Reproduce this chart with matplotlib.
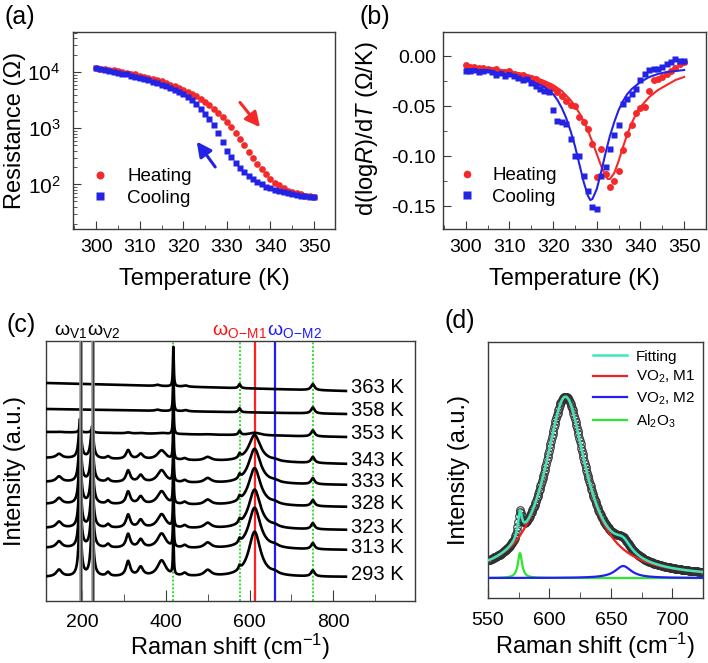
#import libraries
import matplotlib
matplotlib.use("Agg")
import matplotlib.pyplot as plt
import numpy as np
from matplotlib.ticker import MultipleLocator, LogLocator, NullFormatter

plt.rcParams['font.family'] = ['Liberation Sans', 'DejaVu Sans']
plt.rcParams['mathtext.fontset'] = 'custom'
plt.rcParams['mathtext.rm'] = 'Liberation Sans'
plt.rcParams['mathtext.it'] = 'Liberation Sans:italic'
plt.rcParams['mathtext.bf'] = 'Liberation Sans:bold'

RED = '#f42a2a'
BLUE = '#2323e6'

#panel (a): log10 of resistance, 1 K steps
temp = list(range(300, 351))
logR_heat = [4.07, 4.06, 4.05, 4.04, 4.03, 4.02, 4.00, 3.99, 3.97, 3.96,
             3.94, 3.92, 3.90, 3.88, 3.86, 3.84, 3.81, 3.78, 3.75, 3.72,
             3.69, 3.65, 3.61, 3.57, 3.52, 3.47, 3.41, 3.35, 3.28, 3.20,
             3.12, 3.02, 2.92, 2.81, 2.70, 2.58, 2.47, 2.37, 2.27, 2.18,
             2.10, 2.03, 1.98, 1.93, 1.89, 1.86, 1.84, 1.82, 1.80, 1.79, 1.78]
logR_cool = [4.07, 4.05, 4.04, 4.02, 4.01, 3.99, 3.97, 3.96, 3.94, 3.92,
             3.90, 3.88, 3.86, 3.83, 3.81, 3.78, 3.75, 3.72, 3.69, 3.65,
             3.61, 3.56, 3.50, 3.43, 3.35, 3.26, 3.16, 3.05, 2.92, 2.76,
             2.60, 2.48, 2.38, 2.29, 2.22, 2.15, 2.09, 2.04, 2.00, 1.96,
             1.93, 1.90, 1.88, 1.86, 1.84, 1.83, 1.81, 1.80, 1.79, 1.78, 1.78]

#panel (b): d(logR)/dT data and fits
dlog_heat = [-0.009, -0.011, -0.011, -0.012, -0.012, -0.013, -0.014, -0.013, -0.016, -0.016,
             -0.015, -0.018, -0.019, -0.019, -0.021, -0.022, -0.023, -0.026, -0.028, -0.030,
             -0.032, -0.036, -0.040, -0.045, -0.049, -0.050, -0.061, -0.066, -0.073, -0.088,
             -0.121, -0.093, -0.118, -0.131, -0.125, -0.115, -0.094, -0.078, -0.069, -0.057,
             -0.052, -0.051, -0.035, -0.024, -0.023, -0.021, -0.018, -0.015, -0.012, -0.008, -0.006]
dlog_cool = [-0.015, -0.015, -0.014, -0.016, -0.015, -0.014, -0.016, -0.019, -0.017, -0.020,
             -0.018, -0.020, -0.022, -0.024, -0.023, -0.027, -0.030, -0.033, -0.035, -0.036,
             -0.054, -0.065, -0.066, -0.068, -0.083, -0.100, -0.100, -0.120, -0.135, -0.151,
             -0.153, -0.120, -0.111, -0.093, -0.079, -0.069, -0.048, -0.043, -0.038, -0.033,
             -0.024, -0.018, -0.014, -0.013, -0.013, -0.011, -0.008, -0.006, -0.003, -0.005, -0.005]
fit_T_heat = [300, 305, 310, 315, 318, 320, 322, 324, 325, 326, 327, 328, 329, 330, 331,
              332, 332.5, 333, 334, 335, 336, 337, 338, 339, 340, 342, 344, 346, 348, 350]
fit_heat = [-0.010, -0.012, -0.015, -0.020, -0.025, -0.029, -0.035, -0.044, -0.050, -0.057,
            -0.065, -0.075, -0.086, -0.098, -0.110, -0.120, -0.123, -0.123, -0.117, -0.105,
            -0.091, -0.078, -0.067, -0.058, -0.051, -0.041, -0.034, -0.029, -0.024, -0.021]
fit_T_cool = [300, 305, 310, 315, 318, 320, 321, 322, 323, 324, 325, 326, 327, 328, 328.5,
              329, 330, 331, 332, 333, 334, 335, 336, 337, 338, 340, 342, 344, 346, 348, 350]
fit_cool = [-0.013, -0.015, -0.019, -0.025, -0.031, -0.038, -0.044, -0.052, -0.062, -0.075,
            -0.090, -0.108, -0.126, -0.140, -0.144, -0.143, -0.133, -0.116, -0.097, -0.080,
            -0.066, -0.054, -0.045, -0.038, -0.033, -0.026, -0.021, -0.018, -0.016, -0.015, -0.014]

#panel (c): Raman spectra, peak tables
spec_labels = ['363 K', '358 K', '353 K', '343 K', '333 K', '328 K', '323 K', '313 K', '293 K']
spec_offset = [210, 187, 164, 137, 116, 94, 71, 51, 24]
spec_tilt = [8, 5, 5, 6, 3, 3, 2, 2, 0]
spec_m1_scale = [0, 0, 0.06, 0.6, 0.78, 0.84, 0.88, 0.92, 1.0]
m1_pos = [145, 195, 224, 262, 310, 340, 390, 445, 500, 612, 660]
m1_hwhm = [8, 3.5, 4, 5, 6, 7, 12, 6, 10, 17, 10]
m1_amp = [7, 65, 53, 4, 15, 9, 16, 3, 6, 45, 2]
al_pos = [418, 576, 751]
al_hwhm = [1.2, 3, 5]
al_amp = [40, 4, 6]
rut_pos = [380, 447]
rut_hwhm = [6, 6]
rut_amp = [1.2, 1.2]
omega_V = [197, 225]
omega_M1 = 612
omega_M2 = 660

#panel (d): fitted components (centre, hwhm, height) on a flat base
d_base = 20
d_pos = [613, 660, 576]
d_hwhm = [20.5, 8, 2]
d_amp = [181, 12, 25]


def lorentz(x, pos, hw, amp):
    return amp / (1 + ((x - pos) / hw) ** 2)


def styleAxes(ax):
    for sp in ax.spines.values():
        sp.set_color('#3a3a3a')
        sp.set_linewidth(1.0)
    ax.tick_params(which='both', direction='in', top=False, right=False,
                   labelsize=14, color='#3a3a3a')
    ax.tick_params(which='major', length=6)
    ax.tick_params(which='minor', length=3)


fig = plt.figure(figsize=(7.08, 6.63), dpi=100)

#(a) resistance
ax = fig.add_axes([0.1031, 0.6546, 0.3701, 0.2971])
styleAxes(ax)
ax.plot(temp, 10 ** np.array(logR_heat), 'o', color=RED, ms=4.8, mec='none', label='Heating')
ax.plot(temp, 10 ** np.array(logR_cool), 's', color=BLUE, ms=4.5, mec='none', label='Cooling')
ax.set_yscale('log')
ax.set_xlim(294.7, 354.8)
ax.set_ylim(16, 5.2e4)
ax.xaxis.set_major_locator(MultipleLocator(10))
ax.xaxis.set_minor_locator(MultipleLocator(5))
ax.yaxis.set_major_locator(LogLocator(base=10, numticks=10))
ax.yaxis.set_minor_locator(LogLocator(base=10, subs=np.arange(2, 10), numticks=10))
ax.yaxis.set_minor_formatter(NullFormatter())
ax.tick_params(axis='x', pad=7)
ax.tick_params(axis='y', pad=9, labelsize=15)
ax.annotate('', xy=(338.0, 955), xytext=(332.6, 3160),
            arrowprops=dict(arrowstyle='-|>', color=RED, lw=2.2, mutation_scale=22))
ax.annotate('', xy=(322.7, 634), xytext=(327.7, 186),
            arrowprops=dict(arrowstyle='-|>', color=BLUE, lw=2.2, mutation_scale=22))
ax.legend(loc='lower left', bbox_to_anchor=(0.069, 0.112), frameon=False, borderpad=0,
          borderaxespad=0, handlelength=1.0, handletextpad=0.92, labelspacing=0.25,
          fontsize=13.5, markerscale=1.2)
ax.set_xlabel('Temperature (K)', fontsize=17)
ax.set_ylabel('Resistance (Ω)', fontsize=17)
ax.xaxis.set_label_coords(0.5, -0.254)
ax.xaxis.label.set_verticalalignment('center')
ax.yaxis.set_label_coords(-0.222, 0.5)
ax.yaxis.label.set_verticalalignment('center')

#(b) derivative
bx = fig.add_axes([0.6257, 0.6546, 0.3715, 0.2971])
styleAxes(bx)
bx.plot(temp, dlog_heat, 'o', color=RED, ms=5, mec='none', label='Heating', zorder=3)
bx.plot(temp, dlog_cool, 's', color=BLUE, ms=5, mec='none', label='Cooling', zorder=3)
bx.plot(fit_T_heat, fit_heat, '-', color=RED, lw=1.5, zorder=4)
bx.plot(fit_T_cool, fit_cool, '-', color=BLUE, lw=1.5, zorder=4)
bx.set_xlim(294.8, 355)
bx.set_ylim(-0.173, 0.024)
bx.xaxis.set_major_locator(MultipleLocator(10))
bx.xaxis.set_minor_locator(MultipleLocator(5))
bx.yaxis.set_major_locator(MultipleLocator(0.05))
bx.yaxis.set_minor_locator(MultipleLocator(0.025))
bx.yaxis.set_major_formatter(plt.FuncFormatter(lambda v, p: '%.2f' % v if abs(v) > 1e-9 else '0.00'))
bx.tick_params(axis='x', pad=7)
bx.tick_params(axis='y', pad=5)
bx.legend(loc='lower left', bbox_to_anchor=(0.056, 0.117), frameon=False, borderpad=0,
          borderaxespad=0, handlelength=1.0, handletextpad=0.83, labelspacing=0.25,
          fontsize=13.5, markerscale=1.1)
bx.set_xlabel('Temperature (K)', fontsize=17)
bx.set_ylabel('d(log$R$)/d$T$ (Ω/K)', fontsize=17)
bx.xaxis.set_label_coords(0.5, -0.254)
bx.xaxis.label.set_verticalalignment('center')
bx.yaxis.set_label_coords(-0.289, 0.51)
bx.yaxis.label.set_verticalalignment('center')

#(c) Raman spectra
cx = fig.add_axes([0.065, 0.0935, 0.5212, 0.3922])
styleAxes(cx)
raman_x = np.linspace(114, 830, 2600)
for i in range(len(spec_labels)):
    y = spec_offset[i] + spec_tilt[i] * (830 - raman_x) / (830 - 114)
    for p, w, a in zip(al_pos, al_hwhm, al_amp):
        y = y + lorentz(raman_x, p, w, a)
    for p, w, a in zip(m1_pos, m1_hwhm, m1_amp):
        y = y + spec_m1_scale[i] * lorentz(raman_x, p, w, a)
    if spec_m1_scale[i] == 0:
        for p, w, a in zip(rut_pos, rut_hwhm, rut_amp):
            y = y + lorentz(raman_x, p, w, a)
    cx.plot(raman_x, y, color='black', lw=1.9, zorder=3)
    cx.text(843, spec_offset[i] + 3, spec_labels[i], fontsize=14.5, va='center', ha='left')
for p in al_pos:
    cx.axvline(p, color='#2fe02f', lw=1.4, ls=(0, (1, 1)), zorder=2)
cx.axvline(omega_M1, color='#ff2020', lw=1.6, zorder=2)
cx.axvline(omega_M2, color='#1c1cff', lw=1.6, zorder=2)
for p in omega_V:
    cx.axvline(p, color='#9a9a9a', lw=2.6, zorder=4)
    cx.axvline(p, color='#3c3c3c', lw=1.0, zorder=5)
cx.set_xlim(114, 995)
cx.set_ylim(0, 260)
cx.set_yticks([])
cx.xaxis.set_major_locator(MultipleLocator(200))
cx.xaxis.set_minor_locator(MultipleLocator(100))
cx.tick_params(axis='x', which='major', length=8, pad=9)
cx.tick_params(axis='x', which='minor', length=5)
cx.text(172, 1.005, r'ω$_{\mathrm{V1}}$', transform=cx.get_xaxis_transform(),
        fontsize=14, ha='center', va='bottom')
cx.text(251, 1.005, r'ω$_{\mathrm{V2}}$', transform=cx.get_xaxis_transform(),
        fontsize=14, ha='center', va='bottom')
cx.text(577, 1.005, r'ω$_{\mathrm{O\!-\!M1}}$', transform=cx.get_xaxis_transform(),
        fontsize=14, ha='center', va='bottom', color='#ff1010')
cx.text(708, 1.005, r'ω$_{\mathrm{O\!-\!M2}}$', transform=cx.get_xaxis_transform(),
        fontsize=14, ha='center', va='bottom', color='#1a1aff')
cx.set_xlabel('Raman shift (cm$^{-1}$)', fontsize=17)
cx.set_ylabel('Intensity (a.u.)', fontsize=17)
cx.xaxis.set_label_coords(0.5, -0.177)
cx.xaxis.label.set_verticalalignment('center')
cx.yaxis.set_label_coords(-0.085, 0.5)
cx.yaxis.label.set_verticalalignment('center')

#(d) peak fit
dx = fig.add_axes([0.6893, 0.098, 0.3037, 0.3861])
styleAxes(dx)
fx = np.linspace(550, 725, 1200)
m1 = lorentz(fx, d_pos[0], d_hwhm[0], d_amp[0])
m2 = lorentz(fx, d_pos[1], d_hwhm[1], d_amp[1])
al = lorentz(fx, d_pos[2], d_hwhm[2], d_amp[2])
total = d_base + m1 + m2 + al
px = fx[::4]
dx.plot(px, total[::4], 'o', mfc='none', mec='#303030', ms=5.5, mew=0.9, alpha=0.85, zorder=1)
dx.plot(fx, d_base + al, color='#2ee52e', lw=1.6, label='Al$_2$O$_3$', zorder=2)
dx.plot(fx, d_base + m2, color='#2020f0', lw=1.6, label='VO$_2$, M2', zorder=3)
dx.plot(fx, d_base + m1, color='#f02020', lw=1.6, label='VO$_2$, M1', zorder=4)
dx.plot(fx, total, color='#3ee6bc', lw=1.8, label='Fitting', zorder=5)
h, l = dx.get_legend_handles_labels()
dx.legend(h[::-1], l[::-1], loc='upper right', bbox_to_anchor=(1.0, 1.0), frameon=False,
          borderpad=0.3, borderaxespad=0.2, handlelength=2.2, handletextpad=0.6,
          labelspacing=0.35, fontsize=11)
dx.set_xlim(550, 725)
dx.set_ylim(0, 256)
dx.set_yticks([])
dx.xaxis.set_major_locator(MultipleLocator(50))
dx.xaxis.set_minor_locator(MultipleLocator(25))
dx.tick_params(axis='x', which='major', length=7, pad=10)
dx.tick_params(axis='x', which='minor', length=4)
dx.set_xlabel('Raman shift (cm$^{-1}$)', fontsize=17)
dx.set_ylabel('Intensity (a.u.)', fontsize=17)
dx.xaxis.set_label_coords(0.5, -0.1875)
dx.xaxis.label.set_verticalalignment('center')
dx.yaxis.set_label_coords(-0.133, 0.5)
dx.yaxis.label.set_verticalalignment('center')

#panel letters
fig.text(20 / 708, 1 - 17 / 663, '(a)', fontsize=18, ha='center', va='center')
fig.text(375 / 708, 1 - 17 / 663, '(b)', fontsize=18, ha='center', va='center')
fig.text(21 / 708, 1 - 325 / 663, '(c)', fontsize=18, ha='center', va='center')
fig.text(460 / 708, 1 - 321 / 663, '(d)', fontsize=18, ha='center', va='center')

fig.savefig('out.png', dpi=100)
